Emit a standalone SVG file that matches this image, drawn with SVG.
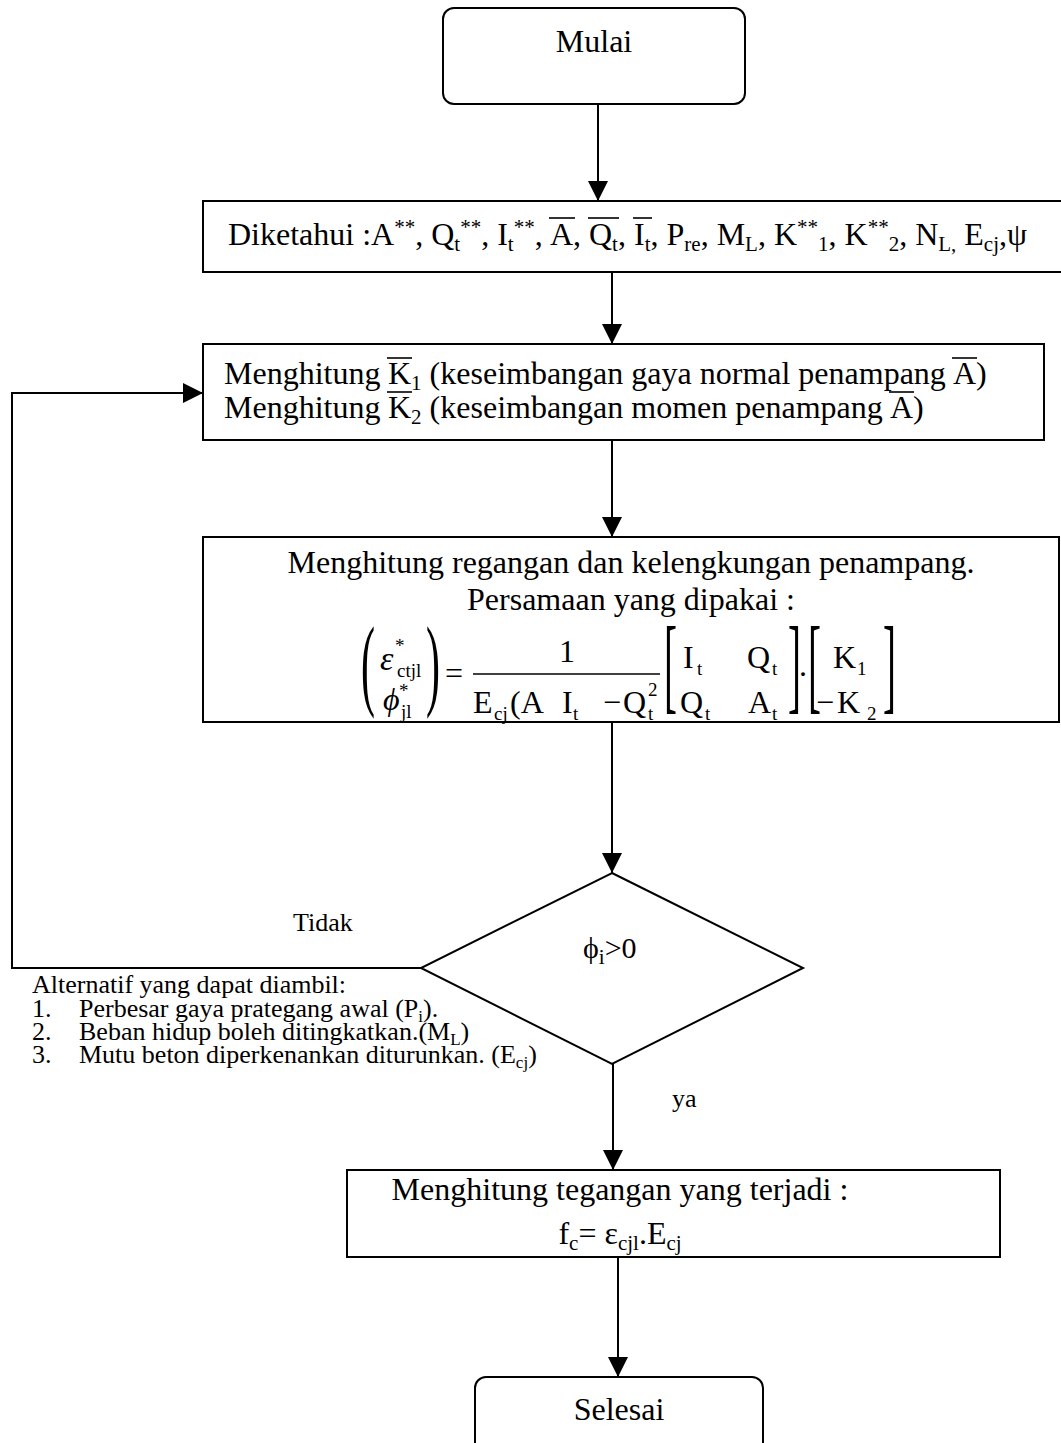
<svg xmlns="http://www.w3.org/2000/svg" width="1061" height="1443" viewBox="0 0 1061 1443">
<defs>
<marker id="ah" markerUnits="userSpaceOnUse" markerWidth="20" markerHeight="20" refX="20" refY="10" orient="auto">
<path d="M0,0 L20,10 L0,20 z" fill="#000"/>
</marker>
</defs>
<style>
text { font-family: "Liberation Serif", "Times New Roman", serif; fill: #000; }
.m { font-size: 32px; }
.s { font-size: 26px; }
.e { font-size: 32px; }
.es { font-size: 19px; }
.sb { font-size: 21px; baseline-shift: -6px; }
.sp { font-size: 21px; baseline-shift: 11px; }
.ssb { font-size: 17px; baseline-shift: -5px; }
.ovl { stroke: #000; stroke-width: 1.6; }
.box { fill: #fff; stroke: #000; stroke-width: 2; }
.conn { fill: none; stroke: #000; stroke-width: 2; }
.it { font-style: italic; }
</style>
<rect width="1061" height="1443" fill="#fff"/>

<g id="connectors">
<line class="conn" x1="598" y1="104" x2="598" y2="201" marker-end="url(#ah)"/>
<line class="conn" x1="612" y1="272" x2="612" y2="344" marker-end="url(#ah)"/>
<line class="conn" x1="612" y1="440" x2="612" y2="537" marker-end="url(#ah)"/>
<line class="conn" x1="612" y1="722" x2="612" y2="873" marker-end="url(#ah)"/>
<line class="conn" x1="613" y1="1064" x2="613" y2="1170" marker-end="url(#ah)"/>
<line class="conn" x1="618" y1="1257" x2="618" y2="1377" marker-end="url(#ah)"/>
<polyline class="conn" points="421,968 12,968 12,393 203,393" marker-end="url(#ah)"/>
</g>

<g id="mulai">
<rect class="box" x="443" y="8" width="302" height="96" rx="11"/>
<text class="m" x="594" y="52" text-anchor="middle">Mulai</text>
</g>

<g id="diketahui">
<rect class="box" x="203" y="201" width="870" height="71"/>
<text class="m" x="228" y="245">Diketahui :A<tspan class="sp">**</tspan>, Q<tspan class="sb">t</tspan><tspan class="sp">**</tspan>, I<tspan class="sb">t</tspan><tspan class="sp">**</tspan>,</text>
<text class="m" x="550" y="245">A,</text>
<text class="m" x="589" y="245">Q<tspan class="sb">t</tspan>,</text>
<text class="m" x="634" y="245">I<tspan class="sb">t</tspan>, P<tspan class="sb">re</tspan>, M<tspan class="sb">L</tspan>, K<tspan class="sp">**</tspan><tspan class="sb">1</tspan>, K<tspan class="sp">**</tspan><tspan class="sb">2</tspan>, N<tspan class="sb">L,</tspan> E<tspan class="sb">cj</tspan>,ψ</text>
<line class="ovl" x1="549" y1="218" x2="575" y2="218"/>
<line class="ovl" x1="588" y1="218" x2="619" y2="218"/>
<line class="ovl" x1="633" y1="218" x2="652" y2="218"/>
</g>

<g id="hitungK">
<rect class="box" x="203" y="344" width="841" height="96"/>
<text class="m" x="224" y="384">Menghitung</text>
<text class="m" x="388" y="384">K<tspan class="sb">1</tspan> (keseimbangan gaya normal penampang</text>
<text class="m" x="953" y="384">A)</text>
<text class="m" x="224" y="418">Menghitung</text>
<text class="m" x="388" y="418">K<tspan class="sb">2</tspan> (keseimbangan momen penampang</text>
<text class="m" x="890" y="418">A)</text>
<line class="ovl" x1="387" y1="358" x2="412" y2="358"/>
<line class="ovl" x1="952" y1="358" x2="977" y2="358"/>
<line class="ovl" x1="387" y1="392" x2="412" y2="392"/>
<line class="ovl" x1="889" y1="392" x2="914" y2="392"/>
</g>

<g id="hitungRegangan">
<rect class="box" x="203" y="537" width="856" height="185"/>
<text class="m" x="631" y="573" text-anchor="middle">Menghitung regangan dan kelengkungan penampang.</text>
<text class="m" x="631" y="610" text-anchor="middle">Persamaan yang dipakai :</text>
<text class="e" transform="translate(361,697) scale(1.4,3.4)" style="font-size:30px">(</text>
<text class="e" transform="translate(426,697) scale(1.4,3.4)" style="font-size:30px">)</text>
<text class="e it" x="380" y="670" style="font-size:34px">ε</text>
<text class="es" x="395" y="652">*</text>
<text class="es" x="397" y="677">ctjl</text>
<text class="e it" x="383" y="710">ϕ</text>
<text class="es" x="399" y="697">*</text>
<text class="es" x="401" y="718">jl</text>
<text class="e" x="445" y="684">=</text>
<text class="e" x="567" y="662" text-anchor="middle">1</text>
<line x1="473" y1="674" x2="660" y2="674" stroke="#000" stroke-width="1.5"/>
<text class="e" x="473" y="713">E</text>
<text class="es" x="494" y="720">cj</text>
<text class="e" x="510" y="713">(A</text>
<text class="e" x="562" y="713">I</text>
<text class="es" x="573" y="720">t</text>
<text class="e" x="603" y="713">−</text>
<text class="e" x="623" y="713">Q</text>
<text class="es" x="648" y="696">2</text>
<text class="es" x="648" y="720">t</text>
<text class="e" transform="translate(664,700) scale(1.3,3.5)" style="font-size:30px">[</text>
<text class="e" x="683" y="668">I</text>
<text class="es" x="697" y="675">t</text>
<text class="e" x="747" y="668">Q</text>
<text class="es" x="772" y="675">t</text>
<text class="e" x="680" y="713">Q</text>
<text class="es" x="705" y="720">t</text>
<text class="e" x="748" y="713">A</text>
<text class="es" x="772" y="720">t</text>
<text class="e" transform="translate(788,700) scale(1.3,3.5)" style="font-size:30px">]</text>
<text class="e" x="799" y="676">.</text>
<text class="e" transform="translate(808,700) scale(1.3,3.5)" style="font-size:30px">[</text>
<text class="e" x="833" y="668">K</text>
<text class="es" x="857" y="675">1</text>
<text class="e" x="816" y="713">−</text>
<text class="e" x="837" y="713">K</text>
<text class="es" x="867" y="720">2</text>
<text class="e" transform="translate(883,700) scale(1.3,3.5)" style="font-size:30px">]</text>
</g>

<g id="keputusan">
<polygon class="box" points="612,873 803,968 612,1064 421,968"/>
<text class="m" x="583" y="958" style="font-size:30px">ϕ<tspan class="sb">i</tspan>&gt;0</text>
</g>

<g id="labels">
<text class="s" x="293" y="931">Tidak</text>
<text class="s" x="672" y="1107">ya</text>
</g>

<g id="alternatif">
<text class="s" x="32" y="993">Alternatif yang dapat diambil:</text>
<text class="s" x="32" y="1017">1.</text>
<text class="s" x="79" y="1017">Perbesar gaya prategang awal (P<tspan class="ssb">i</tspan>).</text>
<text class="s" x="32" y="1040">2.</text>
<text class="s" x="79" y="1040">Beban hidup boleh ditingkatkan.(M<tspan class="ssb">L</tspan>)</text>
<text class="s" x="32" y="1063">3.</text>
<text class="s" x="79" y="1063">Mutu beton diperkenankan diturunkan. (E<tspan class="ssb">cj</tspan>)</text>
</g>

<g id="hitungTegangan">
<rect class="box" x="347" y="1170" width="653" height="87"/>
<text class="m" x="620" y="1200" text-anchor="middle">Menghitung tegangan yang terjadi :</text>
<text class="m" x="620" y="1244" text-anchor="middle">f<tspan class="sb">c</tspan>= ε<tspan class="sb">cjl</tspan>.E<tspan class="sb">cj</tspan></text>
</g>

<g id="selesai">
<rect class="box" x="475" y="1377" width="288" height="90" rx="11"/>
<text class="m" x="619" y="1420" text-anchor="middle">Selesai</text>
</g>
</svg>
